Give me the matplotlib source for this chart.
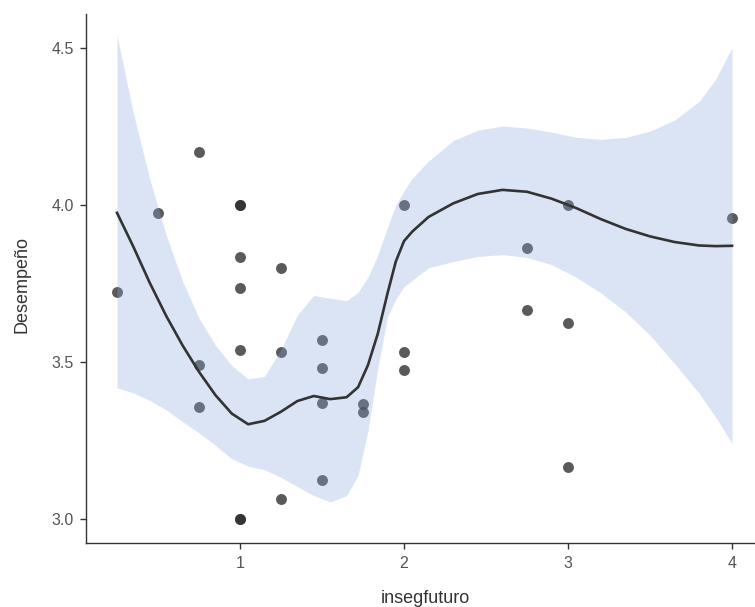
import numpy as np
import matplotlib
matplotlib.use("Agg")
import matplotlib.pyplot as plt

# ---------------------------------------------------------------------------
# Data
# ---------------------------------------------------------------------------

pts_x = [0.25, 0.5, 0.75, 0.75, 0.75, 1, 1, 1, 1, 1, 1, 1,
         1.25, 1.25, 1.25, 1.5, 1.5, 1.5, 1.5, 1.75, 1.75,
         2, 2, 2, 2.75, 2.75, 3, 3, 3, 4]
pts_y = [3.722, 3.975, 4.167, 3.49, 3.357, 4.0, 4.0, 3.833, 3.737, 3.538, 3.0, 3.0,
         3.80, 3.531, 3.063, 3.570, 3.482, 3.371, 3.125, 3.365, 3.340,
         4.0, 3.531, 3.475, 3.864, 3.665, 4.0, 3.625, 3.167, 3.958]

# smooth fit and its confidence band
fit_x = [0.25, 0.35, 0.45, 0.55, 0.65, 0.75, 0.85, 0.95, 1.05, 1.15, 1.25, 1.35,
         1.45, 1.55, 1.65, 1.72, 1.78, 1.84, 1.9, 1.95, 2.0, 2.05, 2.15, 2.3,
         2.45, 2.6, 2.75, 2.9, 3.05, 3.2, 3.35, 3.5, 3.65, 3.8, 3.9, 4.0]
fit_y = [3.975, 3.867, 3.752, 3.647, 3.553, 3.469, 3.395, 3.336, 3.302, 3.313, 3.342, 3.376,
         3.392, 3.382, 3.388, 3.42, 3.49, 3.59, 3.72, 3.82, 3.885, 3.915, 3.962, 4.005,
         4.035, 4.048, 4.042, 4.02, 3.99, 3.955, 3.924, 3.90, 3.882, 3.871, 3.869, 3.87]
fit_lo = [3.418, 3.402, 3.378, 3.348, 3.31, 3.275, 3.235, 3.192, 3.169, 3.157, 3.133, 3.104,
          3.075, 3.055, 3.075, 3.14, 3.28, 3.48, 3.645, 3.70, 3.74, 3.76, 3.80, 3.82,
          3.836, 3.842, 3.833, 3.81, 3.77, 3.72, 3.66, 3.585, 3.495, 3.40, 3.325, 3.241]
fit_hi = [4.54, 4.292, 4.082, 3.904, 3.757, 3.64, 3.554, 3.489, 3.446, 3.455, 3.54, 3.65,
          3.712, 3.703, 3.695, 3.722, 3.77, 3.84, 3.93, 4.0, 4.045, 4.085, 4.14, 4.205,
          4.238, 4.251, 4.245, 4.232, 4.215, 4.209, 4.215, 4.235, 4.27, 4.33, 4.40, 4.50]

x_ticks = [1, 2, 3, 4]
y_ticks = [3.0, 3.5, 4.0, 4.5]

# ---------------------------------------------------------------------------
# Figure
# ---------------------------------------------------------------------------

plt.rcParams["font.family"] = ["Liberation Sans", "DejaVu Sans"]

fig = plt.figure(figsize=(7.55, 6.07), dpi=100)
ax = fig.add_axes([0.1142, 0.1051, 0.8858, 0.8712])

ax.scatter(pts_x, pts_y, s=62, color="#2b2b2b", alpha=0.78,
           linewidths=0, zorder=2)
ax.fill_between(fit_x, fit_lo, fit_hi, color="#87a8e1", alpha=0.3,
                linewidth=0, zorder=3)
ax.plot(fit_x, fit_y, color="#333333", lw=1.9, zorder=4,
        solid_joinstyle="round")

ax.set_xlim(0.0625, 4.14)
ax.set_ylim(2.9235, 4.6065)
ax.set_xticks(x_ticks)
ax.set_yticks(y_ticks)
ax.set_yticklabels([f"{v:.1f}" for v in y_ticks])

for side in ("top", "right"):
    ax.spines[side].set_visible(False)
for side in ("left", "bottom"):
    ax.spines[side].set_color("#333333")
    ax.spines[side].set_linewidth(1.0)

ax.tick_params(axis="both", length=4, width=1, color="#333333",
               labelcolor="#555555", labelsize=11.5, pad=5)

ax.set_xlabel("insegfuturo", fontsize=13, color="#333333")
ax.set_ylabel("Desempeño", fontsize=13, color="#333333")
ax.xaxis.set_label_coords(0.5065, -0.088)
ax.yaxis.set_label_coords(-0.084, 0.49)

fig.savefig("out.png", dpi=100)
